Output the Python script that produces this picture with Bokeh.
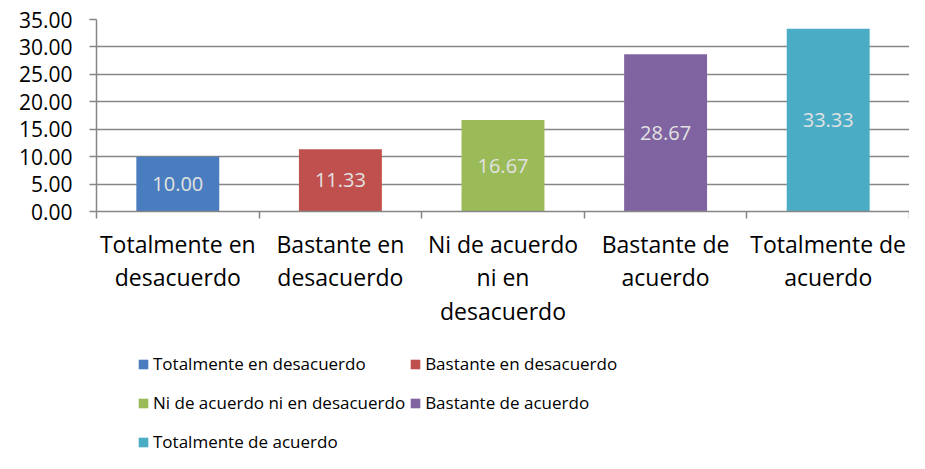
from bokeh.plotting import figure
from bokeh.layouts import column
from bokeh.models import ColumnDataSource, FixedTicker, NumeralTickFormatter, Legend, LegendItem
from bokeh.core.properties import value
from bokeh.embed import file_html
from bokeh.resources import INLINE

categories = ["Totalmente en desacuerdo", "Bastante en desacuerdo",
              "Ni de acuerdo ni en desacuerdo", "Bastante de acuerdo",
              "Totalmente de acuerdo"]
axis_labels = ["Totalmente en\ndesacuerdo", "Bastante en\ndesacuerdo",
               "Ni de acuerdo\nni en\ndesacuerdo", "Bastante de\nacuerdo",
               "Totalmente de\nacuerdo"]
values = [10.00, 11.33, 16.67, 28.67, 33.33]
colors = ["#4a7dbf", "#c0504d", "#9bbb59", "#8064a2", "#4bacc6"]
y_ticks = [0, 5, 10, 15, 20, 25, 30, 35]

FONT = "Open Sans"
n = len(categories)
xs = [i + 0.5 for i in range(n)]

src = ColumnDataSource(dict(
    x=xs, top=values, half=[v / 2 for v in values],
    color=colors, name=categories, lab=["%.2f" % v for v in values]))

p = figure(width=909, height=340, output_backend="svg", toolbar_location=None,
           x_range=(0, n), y_range=(0, 35),
           min_border_left=96, min_border_right=0, min_border_top=19,
           min_border_bottom=129, outline_line_color=None)

r = p.vbar(x="x", top="top", width=0.51, fill_color="color", line_color=None,
           source=src)
p.text(x="x", y="half", text="lab", source=src, text_align="center",
       text_baseline="middle", text_color="#e2e2e2", text_font=value(FONT),
       text_font_size="20px")

# y axis
p.yaxis.ticker = FixedTicker(ticks=y_ticks)
p.yaxis.formatter = NumeralTickFormatter(format="0.00")
p.yaxis.major_tick_out = 7
p.yaxis.major_tick_in = 0
p.yaxis.minor_tick_out = 0
p.yaxis.minor_tick_in = 0
p.yaxis.axis_line_color = "#868686"
p.yaxis.axis_line_width = 1.5
p.yaxis.major_tick_line_color = "#868686"
p.yaxis.major_tick_line_width = 1.5
p.yaxis.major_label_standoff = 17
p.yaxis.major_label_text_font = FONT
p.yaxis.major_label_text_font_size = "21px"
p.yaxis.major_label_text_color = "#000000"

# x axis
p.xaxis.ticker = FixedTicker(ticks=xs, minor_ticks=list(range(n + 1)))
p.xaxis.major_label_overrides = {x: lab for x, lab in zip(xs, axis_labels)}
p.xaxis.major_tick_out = 0
p.xaxis.major_tick_in = 0
p.xaxis.minor_tick_out = 7
p.xaxis.minor_tick_in = 0
p.xaxis.minor_tick_line_color = "#868686"
p.xaxis.minor_tick_line_width = 1.5
p.xaxis.axis_line_color = "#868686"
p.xaxis.axis_line_width = 1.5
p.xaxis.major_label_standoff = 9
p.xaxis.major_label_text_font = FONT
p.xaxis.major_label_text_font_size = "23px"
p.xaxis.major_label_text_color = "#000000"
p.xaxis.major_label_text_line_height = 1.05

p.xgrid.grid_line_color = None
p.ygrid.ticker = FixedTicker(ticks=y_ticks)
p.ygrid.grid_line_color = "#868686"
p.ygrid.grid_line_width = 1.5

# legend panel (separate figure below the chart)
lp = figure(width=909, height=113, output_backend="svg", toolbar_location=None,
            x_range=(0, n), y_range=(1000, 1001), x_axis_type=None, y_axis_type=None,
            min_border_left=96, min_border_right=0, min_border_top=0,
            min_border_bottom=0, outline_line_color=None)
lp.xgrid.grid_line_color = None
lp.ygrid.grid_line_color = None
lr = lp.vbar(x="x", top="top", width=0.51, fill_color="color", line_color=None,
             source=src)
items = [LegendItem(label=c, renderers=[lr], index=i) for i, c in enumerate(categories)]
legend = Legend(items=items, location=(41, -6), orientation="horizontal", ncols=2,
                label_text_font=FONT, label_text_font_size="17px",
                label_text_color="#000000", glyph_width=12, glyph_height=12,
                label_height=35, label_standoff=4, spacing=4, padding=0, margin=0,
                border_line_color=None, background_fill_alpha=0)
lp.add_layout(legend, "center")

open("out.html", "w").write(file_html(column(p, lp, spacing=0), INLINE))
